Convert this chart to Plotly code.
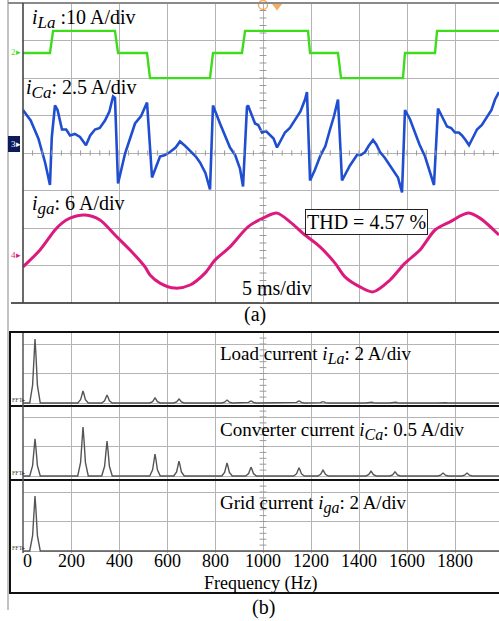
import plotly.graph_objects as go

W, H = 499, 621

# ---------------- (a) oscilloscope data (time in ms, current in A) ----------------
t_iLa = [0, 2.81, 3.13, 9.58, 9.90, 12.92, 13.23, 19.48, 19.79, 22.81, 23.13, 29.69,
         29.90, 32.81, 33.13, 39.58, 39.79, 42.92, 43.13, 49.58]
iLa = [0, 0, 5.9, 5.9, 0, 0, -6.7, -6.7, 0, 0, 5.9, 5.9,
       0, 0, -6.7, -6.7, 0, 0, 5.9, 5.9]

t_iCa = [0, 0.8, 1.6, 2.3, 2.81, 3.0, 3.33, 3.6, 4.06, 4.5, 4.9, 5.4, 5.94, 6.3, 6.56,
         7.0, 7.5, 8.0, 8.54, 9.0, 9.38, 9.58, 9.90, 10.63, 11.2, 11.67, 12.3, 12.92,
         13.44, 14.27, 14.8, 15.31, 15.9, 16.35, 16.9, 17.4, 18.0, 18.44, 19.0, 19.48,
         19.79, 20.52, 21.0, 21.56, 22.1, 22.6, 22.92, 23.33, 23.44, 24.17, 24.5, 24.9,
         25.3, 25.73, 26.1, 26.46, 26.9, 27.29, 27.8, 28.33, 28.9, 29.38, 29.58, 29.90,
         30.4, 30.94, 31.5, 31.98, 32.4, 32.81, 33.23, 34.06, 34.79, 35.2, 35.63, 36.0,
         36.46, 36.8, 37.19, 37.7, 38.23, 38.6, 39.06, 39.48, 39.79, 40.3, 40.83, 41.3,
         41.88, 42.3, 42.81, 43.23, 43.7, 44.17, 44.6, 45.0, 45.4, 45.73, 46.1, 46.46,
         46.9, 47.29, 47.8, 48.33, 48.8, 49.17, 49.58]
iCa = [2.2, 1.5, 0.3, -1.3, -2.8, 0.4, 2.5, 2.2, 0.9, 0.9, 0.5, 0.6, 0.4, 0.1, -0.15,
       0.5, 0.9, 1.0, 1.5, 2.1, 3.1, 3.0, -2.7, -0.7, 0.4, 1.3, 1.8, 2.7,
       -2.3, -0.9, -0.8, -0.6, -0.3, 0.1, -0.2, -0.5, -0.9, -1.3, -2.0, -3.1,
       2.5, 1.3, 0.6, -0.3, -0.8, -1.7, -2.9, 2.4, 2.5, 1.3, 1.2, 0.7,
       0.8, 0.5, 0.3, -0.3, 0.2, 0.7, 1.0, 1.5, 2.1, 2.9, 3.4, -2.5,
       -1.8, -0.9, -0.2, 0.9, 1.8, 2.9, -2.5, -1.5, -0.8, -0.8, -0.6, -0.2,
       0.2, -0.1, -0.6, -1.0, -1.5, -1.8, -2.3, -3.3, 2.2, 1.6, 0.7, -0.1,
       -0.9, -1.7, -2.8, 2.3, 1.7, 1.1, 1.0, 0.7, 0.7, 0.5, 0.2, -0.15,
       0.4, 0.9, 1.2, 1.7, 2.2, 2.9, 3.4]

t_iga = [0, 1.77, 3.33, 4.06, 4.9, 6.46, 8.02, 9.58, 11.15, 12.71, 13.23, 14.27, 15.83,
         17.40, 18.96, 20.0, 21.56, 23.44, 25.0, 26.46, 27.81, 29.38, 30.94, 32.5, 33.54,
         35.10, 36.46, 38.23, 39.79, 41.35, 42.92, 44.48, 46.35, 47.60, 49.58]
iga = [-2.3, 0.4, 3.6, 4.7, 5.5, 6.0, 5.2, 2.8, 0.4, -2.3, -3.6, -4.9, -5.7,
       -5.2, -3.3, -1.2, 0.9, 4.1, 5.5, 6.3, 4.9, 2.8, 0.9, -1.7, -3.9,
       -5.5, -6.3, -4.4, -1.7, 0.4, 3.6, 4.9, 6.3, 5.5, 2.8]

# ---------------- (b) FFT data (harmonic amplitudes, A) ----------------
harm_f = [50, 250, 350, 550, 650, 850, 950, 1150, 1250, 1450, 1550, 1750, 1850]
fft_load = [4.34, 0.81, 0.54, 0.34, 0.27, 0.20, 0.14, 0.14, 0.10, 0.07, 0.07, 0.05, 0.03]
fft_conv = [0.63, 0.83, 0.59, 0.37, 0.25, 0.22, 0.15, 0.14, 0.10, 0.08, 0.07, 0.05, 0.05]
fft_grid = [3.73, 0.03, 0.03, 0.02, 0.02, 0.02, 0.02, 0.02, 0.02, 0.02, 0.02, 0.02, 0.02]
freq_ticks = [0, 200, 400, 600, 800, 1000, 1200, 1400, 1600, 1800]

FONT = "Liberation Serif"
GREEN = "#3fdc1c"
BLUE = "#1f4fd0"
MAGENTA = "#dc1a7e"
GRID = "#b4b4b4"


def px(x):
    return x / W


def py(y):
    return 1 - y / H


# scope scaling (divisions)
iLa_off, iLa_scale = (153 - 53) / 37.5, 10.0
iCa_off, iCa_scale = (153 - 143) / 37.5, 2.5
iga_off, iga_scale = (153 - 252.5) / 37.5, 6.0

fig = go.Figure()
fig.add_trace(go.Scatter(x=t_iLa, y=[iLa_off + v / iLa_scale for v in iLa], mode="lines",
                         line=dict(color=GREEN, width=2.4), xaxis="x", yaxis="y"))
fig.add_trace(go.Scatter(x=t_iCa, y=[iCa_off + v / iCa_scale for v in iCa], mode="lines",
                         line=dict(color=BLUE, width=2.6), xaxis="x", yaxis="y"))
fig.add_trace(go.Scatter(x=t_iga, y=[iga_off + v / iga_scale for v in iga], mode="lines",
                         line=dict(color=MAGENTA, width=3, shape="spline", smoothing=0.8),
                         xaxis="x", yaxis="y"))
# trigger markers
fig.add_trace(go.Scatter(x=[25.0, 26.46], y=[3.95, 3.95], mode="markers", cliponaxis=False,
                         marker=dict(symbol=["circle-open", "triangle-down"], size=[9, 9],
                                     color="#f08a24", line=dict(width=1.5, color="#f08a24")),
                         xaxis="x", yaxis="y"))


def spectrum(amps, per_div):
    xs, ys = [0], [0]
    for f, a in zip(harm_f, amps):
        d = a / per_div
        for off, frac in zip([-22, -10, -4, 0, 4, 10, 22], [0, 0.28, 0.75, 1, 0.75, 0.28, 0]):
            xs.append(f + off)
            ys.append(d * frac)
    xs.append(2000)
    ys.append(0)
    return xs, ys


for k, (amps, per_div) in enumerate([(fft_load, 2.0), (fft_conv, 0.5), (fft_grid, 2.0)], start=2):
    xs, ys = spectrum(amps, per_div)
    fig.add_trace(go.Scatter(x=xs, y=ys, mode="lines", line=dict(color="#555555", width=1.4),
                             xaxis=f"x{k}", yaxis=f"y{k}"))

fig.update_layout(
    width=W, height=H, margin=dict(l=0, r=0, t=0, b=0),
    paper_bgcolor="white", plot_bgcolor="white", showlegend=False,
    xaxis=dict(domain=[px(23), 1], range=[0, (499 - 23) / 48 * 5], dtick=5, tick0=0,
               showgrid=True, gridcolor=GRID, gridwidth=1, zeroline=False,
               showticklabels=False, ticks="", anchor="y", fixedrange=True),
    yaxis=dict(domain=[py(303), py(3)], range=[-4, 4], dtick=1, showgrid=True,
               gridcolor=GRID, gridwidth=1, zeroline=False, showticklabels=False,
               ticks="", anchor="x"),
)

fft_panels = [(333, 406, 403), (407, 480, 476), (481, 553, 551)]
P = 29.5
FMAX = (499 - 23) / 48 * 200
for k, (T, B, b) in enumerate(fft_panels, start=2):
    fig.update_layout(**{
        f"xaxis{k}": dict(domain=[px(23), 1], range=[0, FMAX], tickvals=freq_ticks,
                          showgrid=True, gridcolor=GRID, zeroline=False, ticks="",
                          showticklabels=False, anchor=f"y{k}"),
        f"yaxis{k}": dict(domain=[py(B), py(T)], range=[-(B - b) / P, (b - T) / P], dtick=1,
                          showgrid=True, gridcolor=GRID, zeroline=False, showticklabels=False,
                          ticks="", anchor=f"x{k}"),
    })

shapes = []


def pline(x0, y0, x1, y1, color, width):
    shapes.append(dict(type="line", xref="paper", yref="paper", x0=px(x0), y0=py(y0),
                       x1=px(x1), y1=py(y1), line=dict(color=color, width=width)))


# frame lines
pline(8, 0, 8, 610, "#9a9a9a", 1.2)
pline(8, 3, 499, 3, "#8a8a8a", 2)
pline(11, 303, 499, 303, "#222222", 1.6)
pline(23, 3, 23, 303, "#444444", 1.6)
shapes.append(dict(type="rect", xref="paper", yref="paper", x0=px(10), y0=py(593), x1=px(520),
                   y1=py(332), line=dict(color="#111111", width=2)))
pline(10, 406, 499, 406, "#111111", 2)
pline(10, 480, 499, 480, "#111111", 2)
pline(23, 333, 23, 553, "#555555", 1.5)

# centre-line minor ticks on the scope graticule
for i in range(-20, 21):
    yv = i * 0.2
    shapes.append(dict(type="line", xref="x", yref="y", x0=25 - 0.35, x1=25 + 0.35, y0=yv, y1=yv,
                       line=dict(color="#999999", width=1)))
for i in range(1, 50):
    xv = i * 1.0
    shapes.append(dict(type="line", xref="x", yref="y", x0=xv, x1=xv, y0=-0.07, y1=0.07,
                       line=dict(color="#999999", width=1)))
# FFT centre-line ticks
for k, (T, B, b) in enumerate(fft_panels, start=2):
    lo, hi = -(B - b) / P, (b - T) / P
    v = 0.2
    while v < hi:
        shapes.append(dict(type="line", xref=f"x{k}", yref=f"y{k}", x0=1000 - 14, x1=1000 + 14,
                           y0=v, y1=v, line=dict(color="#999999", width=1)))
        v += 0.2

# channel markers
shapes.append(dict(type="rect", xref="paper", yref="paper", x0=px(8), x1=px(20), y0=py(152),
                   y1=py(136), fillcolor="#0c1c5a", line=dict(width=0)))
fig.update_layout(shapes=shapes)

annotations = []


def ann(text, x, y, size=19, xanchor="left", color="black", **kw):
    annotations.append(dict(text=text, x=px(x), y=py(y), xref="paper", yref="paper",
                            xanchor=xanchor, yanchor="middle", showarrow=False,
                            font=dict(family=FONT, size=size, color=color), **kw))


def sym(sub, size):
    return f"<i>i<sub><span style='font-size:{size}px'>{sub}</span></sub></i>"


ann(sym("La", 17) + " :10 A/div", 30, 19, size=20)
ann(sym("Ca", 17) + ": 2.5 A/div", 24, 89, size=20)
ann(sym("ga", 17) + ": 6 A/div", 30, 205, size=20)
ann("THD = 4.57 %", 366, 222, size=20, xanchor="center", bordercolor="#222222", borderwidth=1,
    borderpad=1, bgcolor="white")
ann("5 ms/div", 240, 288, size=20)
ann("(a)", 255, 314, size=20, xanchor="center")
ann("Load current " + sym("La", 16) + ": 2 A/div", 218, 355, size=19)
ann("Converter current " + sym("Ca", 16) + ": 0.5 A/div", 218, 431, size=19)
ann("Grid current " + sym("ga", 16) + ": 2 A/div", 218, 504, size=19)
# frequency tick labels
for f in freq_ticks:
    xpix = 23 + f / FMAX * (499 - 23)
    ann(str(f), xpix + (4 if f == 0 else 0), 561, size=18, xanchor="center")
ann("Frequency (Hz)", 260, 583, size=18, xanchor="center")
ann("(b)", 263, 607, size=20, xanchor="center")
# channel labels
ann("2▸", 9, 52, size=9, color=GREEN)
ann("3▸", 9, 144, size=9, color="white")
ann("4▸", 9, 255, size=9, color=MAGENTA)
ann("FFT▸", 10, 400, size=6, color="#444444")
ann("FFT▸", 10, 473, size=6, color="#444444")
ann("FFT▸", 10, 548, size=6, color="#444444")
fig.update_layout(annotations=annotations)

fig.write_html("out.html")
